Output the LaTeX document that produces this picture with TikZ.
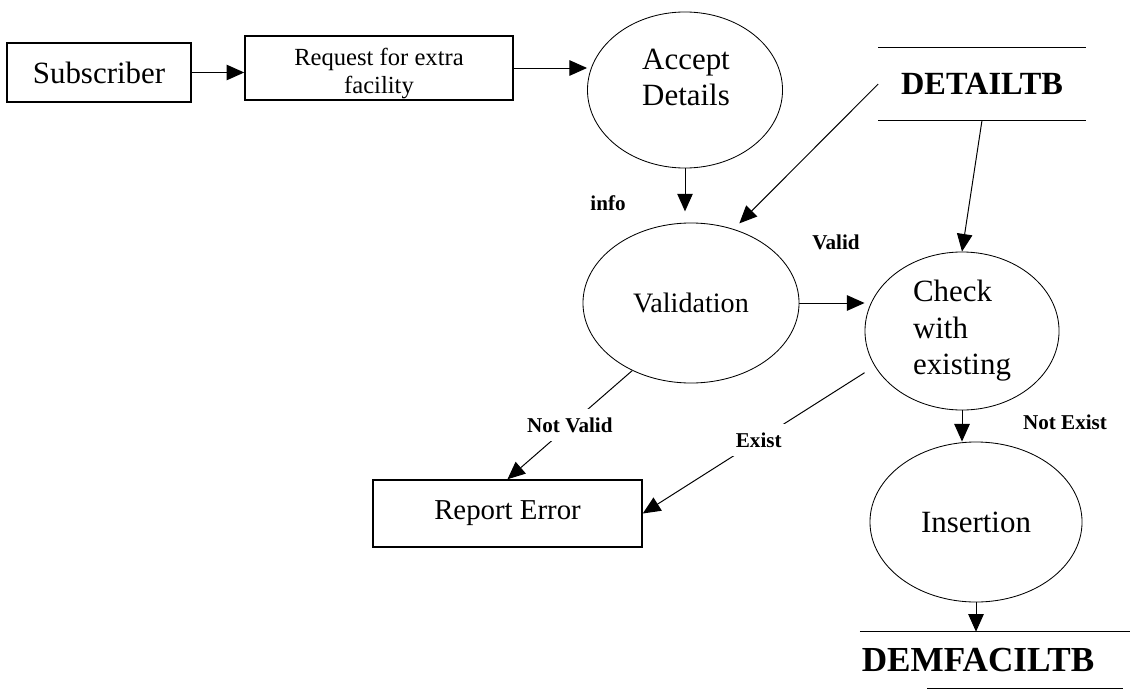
\documentclass[tikz,border=0pt]{standalone}
\usepackage{fontspec}
\setmainfont{Liberation Serif}
\usetikzlibrary{shapes.geometric, arrows.meta, positioning, calc}

\begin{document}
\begin{tikzpicture}[
  x=0.025cm, y=-0.025cm,
  testo/.style={font=\fontsize{22}{26}\selectfont},
  scatola/.style={draw=black, line width=1.1pt, fill=white, align=center, inner sep=2pt},
  processo/.style={ellipse, draw=black, line width=0.6pt, inner sep=0pt, align=center},
  archivio/.style={inner sep=0pt, font=\fontsize{23}{26}\selectfont\bfseries},
  bordo/.style={draw=black, line width=1pt},
  freccia/.style={draw=black, line width=0.7pt, -{Triangle[length=12.5pt, width=11pt]}},
  etichetta/.style={font=\fontsize{15}{17}\selectfont\bfseries, inner sep=1pt},
  sulfilo/.style={etichetta, fill=white, inner xsep=3pt, inner ysep=6pt}
]

% riquadro fisso, con le stesse proporzioni dell'originale
\useasboundingbox (0,0) rectangle (1136,689);

% ---- entita' esterne e riquadri ------------------------------------
\node[scatola, testo, minimum width=4.6cm, minimum height=1.475cm] (sub) at (99,72.5) {Subscriber};
\node[scatola, inner ysep=0pt, font=\fontsize{17.5}{20}\selectfont, minimum width=6.7cm, minimum height=1.6cm] (req) at (379,68) {\rule{0pt}{20pt}Request for extra\\facility};
\node[scatola, font=\fontsize{20.5}{24}\selectfont, minimum width=6.725cm, minimum height=1.675cm] (rep) at (507.5,513.5) {Report Error};

% ---- processi ------------------------------------------------------
\node[processo, minimum width=4.875cm, minimum height=3.9cm] (acc) at (685,90) {};
\node[testo, align=center, font=\fontsize{22}{25}\selectfont] (acc-t) at (686,77.5) {Accept\\Details};
\node[processo, font=\fontsize{20}{24}\selectfont, minimum width=5.4cm, minimum height=4cm] (val) at (691,303) {Validation};
\node[processo, testo, align=left, minimum width=4.85cm, minimum height=3.95cm] (chk) at (962,331) {Check\\with\\existing};
\node[processo, testo, minimum width=5.3cm, minimum height=4cm] (ins) at (976,522) {Insertion};

% ---- archivi -------------------------------------------------------
\node[archivio, minimum width=5.175cm, minimum height=1.8cm] (det) at (982,84) {DETAILTB};
\draw[bordo] (det.north west) -- (det.north east);
\draw[bordo] (det.south west) -- (det.south east);

\node[archivio, font=\fontsize{25}{28}\selectfont\bfseries, minimum height=1.4cm] (dem) at (978,660) {DEMFACILTB};
\draw[bordo] ([xshift=-2.95cm]dem.north) -- ([xshift=3.8cm]dem.north);
\draw[bordo] ([xshift=-1.275cm]dem.south) -- ([xshift=3.625cm]dem.south);

% ---- etichette sciolte ---------------------------------------------
\node[etichetta] (info)  at (608,203)  {info};
\node[etichetta] (valid) at (836,242)  {Valid};
\node[etichetta] (noex)  at (1065,422) {Not Exist};

% ---- flussi --------------------------------------------------------
\draw[freccia] (sub.east) -- (sub.east -| req.west);
\draw[freccia] (req.east) -- (req.east -| acc.west);
\draw[freccia, shorten >=0.28cm] (acc.south) -- (acc.south |- val.north);
\draw[freccia, shorten >=0.2cm] (det.west) -- (val.60);
\draw[freccia] (det.south) -- (chk.north);
\draw[freccia] (val.east) -- (val.east -| chk.west);
\draw[freccia] (val.229) -- node[sulfilo] {Not Valid} (rep.north);
\draw[freccia, shorten <=0.3cm] (chk.202) -- node[sulfilo] {Exist} (rep.east);
\draw[freccia] (chk.south) -- (chk.south |- ins.north);
\draw[freccia] (ins.south) -- (ins.south |- dem.north);

\end{tikzpicture}
\end{document}
